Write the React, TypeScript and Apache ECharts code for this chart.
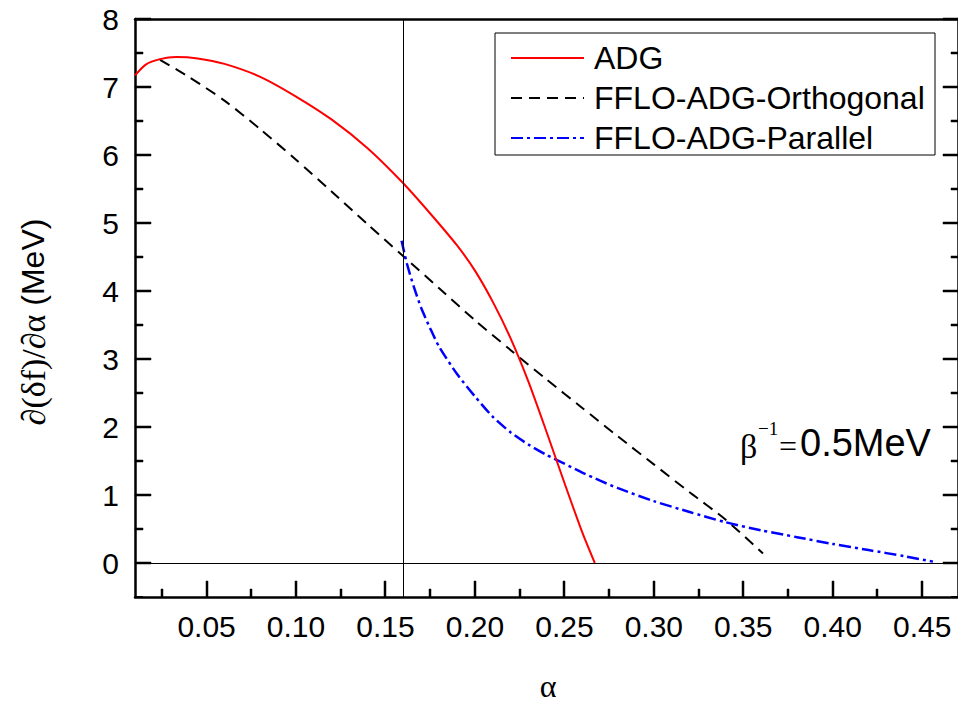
import React, { useEffect, useRef } from 'react';
import * as echarts from 'echarts';

const adgX = [0.010, 0.016, 0.024, 0.033, 0.045, 0.060, 0.080, 0.100, 0.120, 0.140, 0.159, 0.175, 0.190, 0.200, 0.210, 0.220, 0.230, 0.240, 0.250, 0.260, 0.267];
const adgY = [7.17, 7.33, 7.41, 7.44, 7.42, 7.34, 7.15, 6.86, 6.52, 6.10, 5.61, 5.14, 4.67, 4.30, 3.84, 3.30, 2.66, 1.93, 1.18, 0.45, 0.0];

const orthX = [0.024, 0.04, 0.06, 0.08, 0.10, 0.12, 0.14, 0.16, 0.18, 0.20, 0.22, 0.24, 0.26, 0.28, 0.30, 0.32, 0.34, 0.361];
const orthY = [7.40, 7.15, 6.80, 6.38, 5.93, 5.46, 4.98, 4.51, 4.04, 3.57, 3.13, 2.70, 2.28, 1.86, 1.45, 1.04, 0.64, 0.14];

const parX = [0.159, 0.162, 0.166, 0.170, 0.175, 0.18, 0.19, 0.20, 0.21, 0.22, 0.23, 0.24, 0.25, 0.26, 0.27, 0.28, 0.30, 0.32, 0.34, 0.36, 0.38, 0.40, 0.42, 0.44, 0.456];
const parY = [4.74, 4.40, 4.05, 3.75, 3.45, 3.18, 2.78, 2.45, 2.15, 1.92, 1.74, 1.59, 1.46, 1.33, 1.21, 1.10, 0.91, 0.75, 0.60, 0.48, 0.38, 0.28, 0.19, 0.10, 0.02];

const xMajorTicks = [0.05, 0.10, 0.15, 0.20, 0.25, 0.30, 0.35, 0.40, 0.45];
const xMinorTicks = [0.025, 0.075, 0.125, 0.175, 0.225, 0.275, 0.325, 0.375, 0.425];
const yMajorTicks = [0, 1, 2, 3, 4, 5, 6, 7, 8];
const yMinorTicks = [0.5, 1.5, 2.5, 3.5, 4.5, 5.5, 6.5, 7.5];

const seriesNames = ['ADG', 'FFLO-ADG-Orthogonal', 'FFLO-ADG-Parallel'];
const markerAlpha = 0.159;

const SANS = '"Liberation Sans", Arial, sans-serif';
const SERIF = '"Liberation Serif", "Times New Roman", serif';

const X_MIN = 0.01, X_MAX = 0.47, Y_MIN = -0.5, Y_MAX = 8;
const GRID = { left: 135, top: 19, width: 825, height: 578 };

function zip(xs: number[], ys: number[]) {
  return xs.map((x, i) => [x, ys[i]]);
}

const staticGraphics: any[] = [
  {
    type: 'rect', shape: { x: 495, y: 33, width: 440, height: 122 },
    style: { fill: 'none', stroke: '#000', lineWidth: 1 }, z: 10,
  },
  {
    type: 'text', x: 548, y: 686,
    style: { text: 'α', fontFamily: SERIF, fontSize: 32, fill: '#000', align: 'center', verticalAlign: 'middle' },
  },
  {
    type: 'text', x: 33, y: 322, rotation: Math.PI / 2,
    style: {
      text: '{s|∂(δf)/∂α}{m| (MeV)}',
      rich: {
        s: { fontFamily: SERIF, fontSize: 34, fill: '#000' },
        m: { fontFamily: SANS, fontSize: 32, fill: '#000' },
      },
      align: 'center', verticalAlign: 'middle',
    },
  },
  {
    type: 'text', x: 740, y: 446,
    style: { text: 'β', fontFamily: SERIF, fontSize: 34, fill: '#000', align: 'left', verticalAlign: 'middle' },
  },
  {
    type: 'text', x: 758, y: 428,
    style: { text: '−1', fontFamily: SERIF, fontSize: 19, fill: '#000', align: 'left', verticalAlign: 'middle' },
  },
  {
    type: 'text', x: 779, y: 446,
    style: { text: '=', fontFamily: SERIF, fontSize: 32, fill: '#000', align: 'left', verticalAlign: 'middle' },
  },
  {
    type: 'text', x: 800, y: 443,
    style: { text: '0.5MeV', fontFamily: SANS, fontSize: 38, fill: '#000', align: 'left', verticalAlign: 'middle' },
  },
];

export default function App() {
  const ref = useRef<HTMLDivElement>(null);
  useEffect(() => {
    if (!ref.current) return;
    const chart = echarts.init(ref.current, null, { renderer: 'svg' });
    const axisLineStyle = { color: '#000', width: 2.5 };
    const refLine = { color: '#000', width: 1, type: 'solid' };
    chart.setOption({
      animation: false,
      grid: { ...GRID, containLabel: false },
      xAxis: [
        {
          type: 'value', min: X_MIN, max: X_MAX, position: 'bottom',
          splitLine: { show: false },
          axisLine: { show: true, onZero: false, lineStyle: axisLineStyle },
          axisTick: { show: false },
          axisLabel: {
            show: true, customValues: xMajorTicks, formatter: (v: number) => v.toFixed(2),
            fontSize: 30, color: '#000', fontFamily: SANS, margin: 14,
          },
        },
        {
          type: 'value', min: X_MIN, max: X_MAX, position: 'top',
          splitLine: { show: false },
          axisLine: { show: true, onZero: false, lineStyle: axisLineStyle },
          axisTick: { show: false },
          axisLabel: { show: false },
        },
      ],
      yAxis: [
        {
          type: 'value', min: Y_MIN, max: Y_MAX, interval: 0.5, position: 'left',
          splitLine: { show: false },
          axisLine: { show: true, onZero: false, lineStyle: axisLineStyle },
          axisTick: { show: true, inside: true, length: 8, lineStyle: { color: '#000', width: 2 } },
          axisLabel: {
            show: true, customValues: yMajorTicks, formatter: (v: number) => String(Math.round(v)),
            fontSize: 30, color: '#000', fontFamily: SANS, margin: 16,
          },
        },
        {
          type: 'value', min: Y_MIN, max: Y_MAX, interval: 0.5, position: 'right',
          splitLine: { show: false },
          axisLine: { show: true, onZero: false, lineStyle: axisLineStyle },
          axisTick: { show: true, inside: true, length: 7, lineStyle: { color: '#000', width: 2 } },
          axisLabel: { show: false },
        },
      ],
      legend: {
        data: seriesNames,
        orient: 'vertical',
        left: 510,
        top: 42,
        padding: 0,
        itemWidth: 73,
        itemHeight: 14,
        itemGap: 8,
        selectedMode: false,
        itemStyle: { opacity: 0, color: 'rgba(0,0,0,0)', borderWidth: 0 },
        textStyle: { fontSize: 32, lineHeight: 31, color: '#000', fontFamily: SANS, padding: [0, 0, 0, 5] },
      },
      series: [
        {
          name: seriesNames[0], type: 'line', data: zip(adgX, adgY), smooth: 0.25,
          symbol: 'none', lineStyle: { color: '#ff0000', width: 2, type: 'solid' }, itemStyle: { color: '#ff0000' },
          markLine: {
            silent: true, symbol: 'none', label: { show: false },
            lineStyle: refLine,
            data: [{ xAxis: markerAlpha }, { yAxis: 0 }],
          },
          z: 3,
        },
        {
          name: seriesNames[1], type: 'line', data: zip(orthX, orthY), smooth: 0.25,
          symbol: 'none', lineStyle: { color: '#000', width: 2, type: [11, 7] }, itemStyle: { color: '#000' },
          z: 2,
        },
        {
          name: seriesNames[2], type: 'line', data: zip(parX, parY), smooth: 0.25,
          symbol: 'none', lineStyle: { color: '#0000ff', width: 2.5, type: [12, 4, 3, 4] }, itemStyle: { color: '#0000ff' },
          z: 2,
        },
      ],
      graphic: staticGraphics,
    });

    // inward tick marks, positioned through the axes' scales
    const toPx = (x: number, y: number) => chart.convertToPixel({ gridIndex: 0 }, [x, y]) as number[];
    const tickEls: any[] = [];
    const W = 2;
    const addTicks = (values: number[], side: 'bottom' | 'left' | 'right', len: number) => {
      values.forEach((v) => {
        let shape;
        if (side === 'bottom') {
          const p = toPx(v, Y_MIN);
          shape = { x: Math.round(p[0]) - 1, y: Math.round(p[1]) - len, width: W, height: len };
        } else if (side === 'left') {
          const p = toPx(X_MIN, v);
          shape = { x: Math.round(p[0]), y: Math.round(p[1]) - 1, width: len, height: W };
        } else {
          const p = toPx(X_MAX, v);
          shape = { x: Math.round(p[0]) - len, y: Math.round(p[1]) - 1, width: len, height: W };
        }
        tickEls.push({ type: 'rect', shape, style: { fill: '#000', stroke: '#000', lineWidth: 0.5 } });
      });
    };
    addTicks(xMajorTicks, 'bottom', 16);
    addTicks(xMinorTicks, 'bottom', 8);
    addTicks(yMajorTicks, 'left', 16);
    addTicks(yMinorTicks, 'left', 8);
    addTicks(yMajorTicks, 'right', 15);
    addTicks(yMinorTicks, 'right', 7);
    chart.setOption({ graphic: [...staticGraphics, ...tickEls] });

    return () => chart.dispose();
  }, []);
  return <div ref={ref} style={{ position: 'fixed', left: 0, top: 0, width: 958, height: 705, background: '#fff' }} />;
}
